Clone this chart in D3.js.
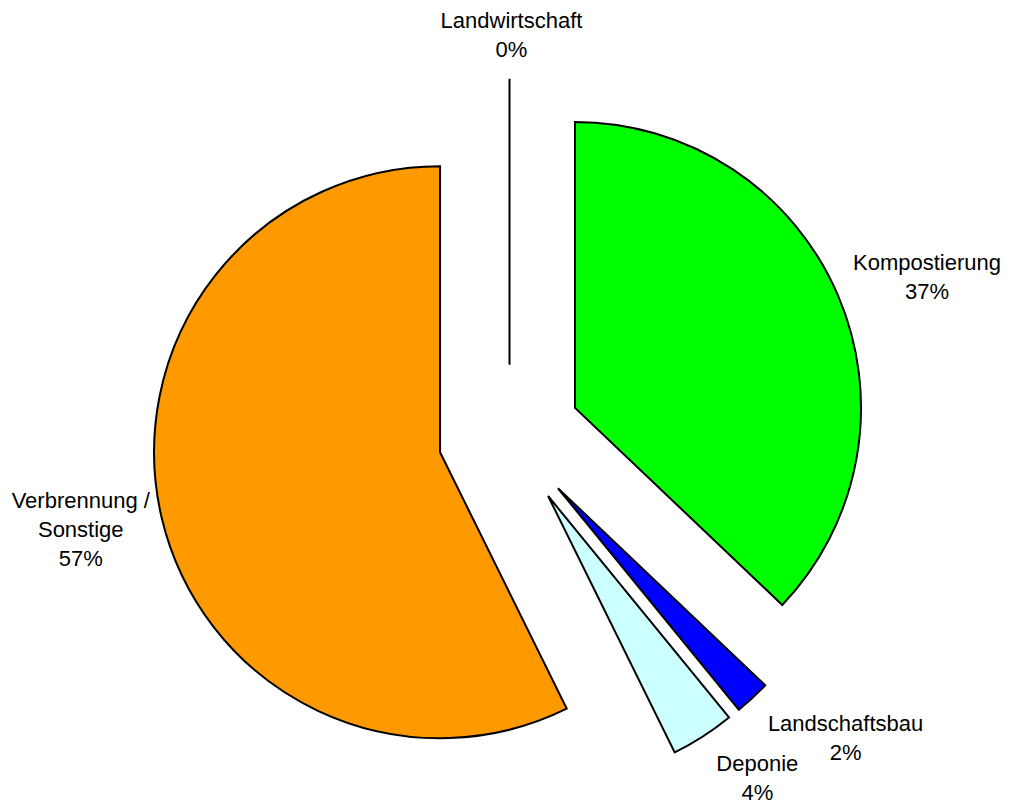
<!DOCTYPE html>
<meta charset="utf-8">
<head>
  <script src="https://cdn.jsdelivr.net/npm/d3@7"></script>
  <style>
    body { margin: 0; background: #fff; }
    text { font-family: "Liberation Sans", Arial, sans-serif; font-size: 22px; fill: #000; }
  </style>
</head>
<body>
<div id="container"></div>
<script>
// Data (shares in %)
var categories = ["Landwirtschaft", "Kompostierung", "Landschaftsbau", "Deponie", "Verbrennung / Sonstige"];
var values = [0, 37.1, 2.0, 3.6, 57.3];
var colors = ["#ffffff", "#00ff00", "#0000ff", "#ccffff", "#ff9900"];
// label lines (manual break like the original)
var labelLines = [["Landwirtschaft"], ["Kompostierung"], ["Landschaftsbau"], ["Deponie"], ["Verbrennung /", "Sonstige"]];

var width = 1011, height = 803;
var cx = 509.5, cy = 436;   // pie centre before exploding
var radius = 286;
var explode = 71.3;
var labelR = 370;
var lineH = 29;
// small nudges so labels sit where the original placed them
var labelNudge = [[2, 40], [12, 14], [36, -22], [9, -30], [1, -7]];

var svg = d3.select("#container")
  .append("svg")
  .attr("width", width)
  .attr("height", height);

var total = d3.sum(values);
var rows = categories.map(function (c, i) { return { name: c, value: values[i], i: i }; });

var pie = d3.pie()
  .sort(null)
  .value(function (d) { return d.value; });

var arc = d3.arc().innerRadius(0).outerRadius(radius);

var arcs = pie(rows);

function dir(d) {
  var a = (d.startAngle + d.endAngle) / 2;
  return [Math.sin(a), -Math.cos(a)];
}

var slices = svg.selectAll("g.slice")
  .data(arcs)
  .enter().append("g")
  .attr("class", "slice")
  .attr("transform", function (d) {
    var v = dir(d);
    return "translate(" + (cx + v[0] * explode) + "," + (cy + v[1] * explode) + ")";
  });

slices.append("path")
  .attr("d", arc)
  .attr("fill", function (d) { return colors[d.data.i]; })
  .attr("stroke", "#000")
  .attr("stroke-width", 2)
  .attr("stroke-linejoin", "miter");

// labels
slices.each(function (d) {
  var v = dir(d);
  var i = d.data.i;
  var lines = labelLines[i].concat([Math.round(d.data.value / total * 100) + "%"]);
  var x = v[0] * labelR + labelNudge[i][0];
  var y = v[1] * labelR + labelNudge[i][1];
  var firstBase = y - (lines.length - 1) * lineH / 2 + 8;
  var t = d3.select(this).append("text")
    .attr("text-anchor", "middle");
  lines.forEach(function (ln, k) {
    t.append("tspan")
      .attr("x", x)
      .attr("y", firstBase + k * lineH)
      .text(ln);
  });
});
</script>
</body>
